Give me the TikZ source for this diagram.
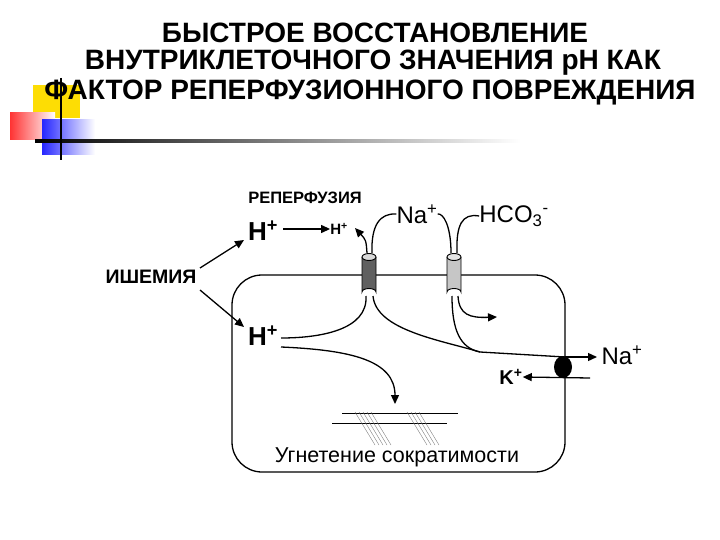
\documentclass[tikz,border=0pt]{standalone}
\usepackage{fontspec}
\setmainfont{Liberation Sans}
\usetikzlibrary{arrows.meta}
\begin{document}
\begin{tikzpicture}[x=1pt,y=-1pt,
  ln/.style={line width=1.3pt},
  arr/.style={ln,-{Triangle[length=9pt,width=8pt]}},
  lab/.style={inner sep=0pt},
  ttl/.style={lab,font=\bfseries\fontsize{28}{30}\selectfont},
  chan/.style={draw=black,line width=0.9pt}]
\useasboundingbox (0,0) rectangle (720,540);
% decoration
\fill[yellow!80!orange] (33,85) rectangle (80,118);
\shade[left color=red!80, right color=white] (10,113) rectangle (55,140);
\shade[left color=blue!85, right color=white] (42,120) rectangle (95,155);
\shade[left color=black, right color=white] (35,140) rectangle (520,142.5);
\draw[line width=2pt] (61,78) -- (61,160);
% title
\node[ttl] (t1) at (375,33) {БЫСТРОЕ ВОССТАНОВЛЕНИЕ};
\node[ttl] (t2) at (373,63) {ВНУТРИКЛЕТОЧНОГО ЗНАЧЕНИЯ рН КАК};
\node[ttl] (t3) at (370,93) {ФАКТОР РЕПЕРФУЗИОННОГО ПОВРЕЖДЕНИЯ};
% cell
\draw[ln] (232,275) [rounded corners=30pt] rectangle (565,472);
% labels
\node[lab,font=\bfseries\fontsize{16.5}{18}\selectfont] (rep) at (305,198) {РЕПЕРФУЗИЯ};
\node[lab,font=\bfseries\fontsize{26}{28}\selectfont] (h1) at (263,231) {H\textsuperscript{+}};
\node[lab,font=\bfseries\fontsize{15}{17}\selectfont] (h2) at (339,229) {H\textsuperscript{+}};
\node[lab,font=\fontsize{24}{26}\selectfont] (na) at (417,214) {Na\textsuperscript{+}};
\node[lab,font=\fontsize{24}{26}\selectfont] (hco) at (514,216) {HCO\textsubscript{3}\textsuperscript{-}};
\node[lab,font=\bfseries\fontsize{19.5}{22}\selectfont] (ish) at (151,277) {ИШЕМИЯ};
\node[lab,font=\bfseries\fontsize{26}{28}\selectfont] (h3) at (263,336) {H\textsuperscript{+}};
\node[lab,font=\fontsize{24}{26}\selectfont] (na2) at (622,355) {Na\textsuperscript{+}};
\node[lab,font=\bfseries\fontsize{20}{22}\selectfont] (k) at (511,377) {K\textsuperscript{+}};
\node[lab,font=\fontsize{21.5}{24}\selectfont] (ug) at (397,457) {Угнетение сократимости};
% ishemia arrows
\coordinate (i1) at (200,268); \coordinate (i2) at (200,290);
\draw[arr] (i1) -- (244,240);
\draw[arr] (i2) -- (244,327);
\draw[arr] (283,229) -- (h2.west);
% channels
\draw[chan,fill=gray!75!black] (362,257) -- (362,292) arc[x radius=7,y radius=3.5,start angle=180,end angle=360] -- (376,257);
\draw[chan,fill=gray!30] (369,257) ellipse[x radius=7,y radius=3.5];
\draw[chan,fill=gray!45] (447,257) -- (447,292) arc[x radius=7,y radius=3.5,start angle=180,end angle=360] -- (461,257);
\draw[chan,fill=gray!20] (454,257) ellipse[x radius=7,y radius=3.5];
% channel 1 curves
\draw[arr] (367,253) .. controls (366,240) .. (355,228);
\draw[ln] (372,253) .. controls (371,225) and (380,213) .. (na.west);
\draw[ln] (366,296) .. controls (368,330) and (320,338) .. (281,338);
\draw[ln] (373,296) .. controls (376,330) and (440,340) .. (480,352) -- (565,357);
\coordinate (pump) at (563,367);
\draw[arr] (565,357) -- (597,357);
% channel 2 curves
\draw[ln] (451,253) .. controls (451,225) and (443,213) .. (na.east);
\draw[ln] (457,253) .. controls (456,225) and (462,213) .. (hco.west);
\draw[ln] (452,296) .. controls (452,330) and (460,348) .. (480,352);
\draw[arr] (458,296) .. controls (459,315) and (470,318) .. (497,317);
% pump
\fill (pump) ellipse[x radius=9,y radius=11];
\draw[ln,-{Triangle[length=9pt,width=8pt]}] (590,378) -- (k.east);
% H+ to contraction
\draw[arr] (281,347) .. controls (350,350) and (395,360) .. (395,404);
% sarcomere lines
\draw[line width=0.8pt] (342,413) -- (458,413);
\draw[line width=0.8pt] (332,423) -- (447,423);
\foreach \x in {355,359,363,367,371} \draw[gray,line width=0.4pt] (\x,412) -- (\x+20,445);
\foreach \x in {407,411,415,419} \draw[gray,line width=0.4pt] (\x,412) -- (\x+20,445);
\end{tikzpicture}
\end{document}
